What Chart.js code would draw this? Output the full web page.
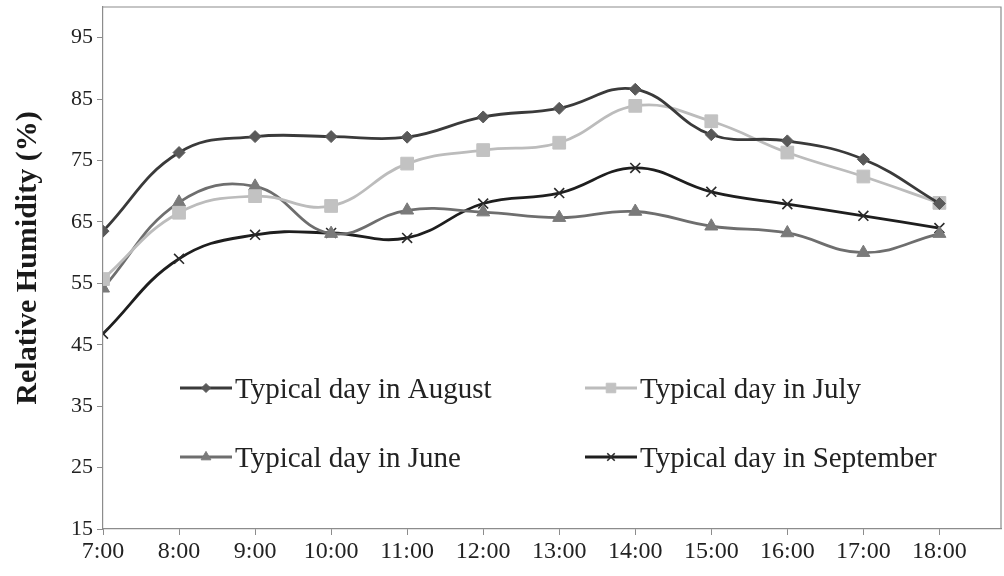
<!DOCTYPE html>
<html>
<head>
<meta charset="utf-8">
<script src="https://cdn.jsdelivr.net/npm/chart.js@4"></script>
<style>
  html, body { margin: 0; padding: 0; background: #fff; }
  #wrap { width: 1004px; height: 576px; position: relative; }
</style>
</head>
<body>
<div id="wrap"><canvas id="myChart"></canvas></div>
<script>
const hours = ['7:00', '8:00', '9:00', '10:00', '11:00', '12:00', '13:00', '14:00', '15:00', '16:00', '17:00', '18:00'];
const yTicks = [15, 25, 35, 45, 55, 65, 75, 85, 95];
const yTitle = 'Relative Humidity (%)';

const august = [63.5, 76.3, 78.9, 78.9, 78.8, 82.1, 83.5, 86.6, 79.2, 78.2, 75.2, 68.0];
const july = [55.7, 66.5, 69.2, 67.6, 74.5, 76.7, 77.9, 83.9, 81.4, 76.3, 72.4, 68.1];
const june = [54.2, 68.2, 70.8, 63.1, 66.9, 66.6, 65.7, 66.7, 64.3, 63.2, 60.0, 63.1];
const september = [46.8, 59.0, 62.9, 63.2, 62.4, 68.0, 69.7, 73.8, 69.9, 67.9, 66.0, 64.0];

const serif = '"Liberation Serif", "Times New Roman", serif';
const axisGrey = '#8c8c8c';

function toPoints(values) {
  return values.map((v, i) => ({ x: i, y: v }));
}

function series(label, values, line, fill, style, radius) {
  return {
    label: label,
    data: toPoints(values),
    borderColor: line,
    borderWidth: 2.8,
    backgroundColor: fill,
    pointBackgroundColor: fill,
    pointBorderColor: style === 'crossRot' ? '#2a2a2a' : fill,
    pointBorderWidth: style === 'crossRot' ? 1.6 : 1,
    pointStyle: style,
    pointRadius: radius,
    tension: 0.42,
    fill: false
  };
}

const datasets = [
  series('Typical day in August', august, '#3a3a3a', '#595959', 'rectRot', 6),
  series('Typical day in July', july, '#bcbcbc', '#c2c2c2', 'rect', 9),
  series('Typical day in June', june, '#6e6e6e', '#7a7a7a', 'triangle', 7.5),
  series('Typical day in September', september, '#1e1e1e', '#2a2a2a', 'crossRot', 7)
];

// frame around the plot, y title, and the 2x2 legend inside the plot area
const framePlugin = {
  id: 'frame',
  afterDraw(chart) {
    const { ctx, chartArea: a } = chart;
    ctx.save();
    ctx.strokeStyle = axisGrey;
    ctx.lineWidth = 1.2;
    ctx.beginPath();
    ctx.moveTo(a.left, a.top);
    ctx.lineTo(a.right, a.top);
    ctx.lineTo(a.right, a.bottom);
    ctx.stroke();

    ctx.save();
    ctx.translate(28, 258);
    ctx.rotate(-Math.PI / 2);
    ctx.font = 'bold 30px ' + serif;
    ctx.fillStyle = '#1a1a1a';
    ctx.textAlign = 'center';
    ctx.textBaseline = 'middle';
    ctx.fillText(yTitle, 0, 0);
    ctx.restore();

    const spots = [[180, 398], [585, 398], [180, 467], [585, 467]];
    ctx.font = '29px ' + serif;
    ctx.textBaseline = 'alphabetic';
    chart.data.datasets.forEach((ds, i) => {
      const [x, y] = spots[i];
      const my = y - 10;
      ctx.strokeStyle = ds.borderColor;
      ctx.lineWidth = 2.8;
      ctx.beginPath();
      ctx.moveTo(x, my);
      ctx.lineTo(x + 52, my);
      ctx.stroke();
      ctx.fillStyle = ds.pointBackgroundColor;
      ctx.strokeStyle = ds.pointBorderColor;
      ctx.lineWidth = ds.pointBorderWidth;
      Chart.helpers.drawPoint(ctx, {
        pointStyle: ds.pointStyle,
        radius: ds.pointRadius * 0.75,
        borderWidth: ds.pointBorderWidth,
        rotation: 0
      }, x + 26, my);
      ctx.fillStyle = '#222';
      ctx.fillText(ds.label, x + 55, y);
    });
    ctx.restore();
  }
};

new Chart(document.getElementById('myChart'), {
  type: 'line',
  data: { datasets: datasets },
  plugins: [framePlugin],
  options: {
    responsive: true,
    maintainAspectRatio: false,
    animation: false,
    layout: { autoPadding: false, padding: { top: 7, right: 3, left: 0, bottom: 0 } },
    plugins: {
      legend: { display: false },
      tooltip: { enabled: false }
    },
    scales: {
      x: {
        type: 'linear',
        min: 0,
        max: 11.81,
        afterBuildTicks: (s) => { s.ticks = hours.map((h, i) => ({ value: i })); },
        afterFit: (s) => { s.height = 47; s.paddingLeft = 0; s.paddingRight = 0; },
        grid: { drawOnChartArea: false, drawTicks: true, tickLength: 6, color: axisGrey },
        border: { color: axisGrey, width: 1.2 },
        ticks: {
          callback: (v) => hours[v],
          font: { family: serif, size: 24 },
          color: '#222',
          padding: 2,
          maxRotation: 0,
          autoSkip: false
        }
      },
      y: {
        min: 15,
        max: 100,
        afterBuildTicks: (s) => { s.ticks = yTicks.map(v => ({ value: v })); },
        afterFit: (s) => { s.width = 103; s.paddingTop = 0; s.paddingBottom = 0; },
        grid: { drawOnChartArea: false, drawTicks: true, tickLength: 6, color: axisGrey },
        border: { color: axisGrey, width: 1.2 },
        ticks: {
          font: { family: serif, size: 22 },
          color: '#222',
          padding: 4
        }
      }
    }
  }
});
</script>
</body>
</html>
